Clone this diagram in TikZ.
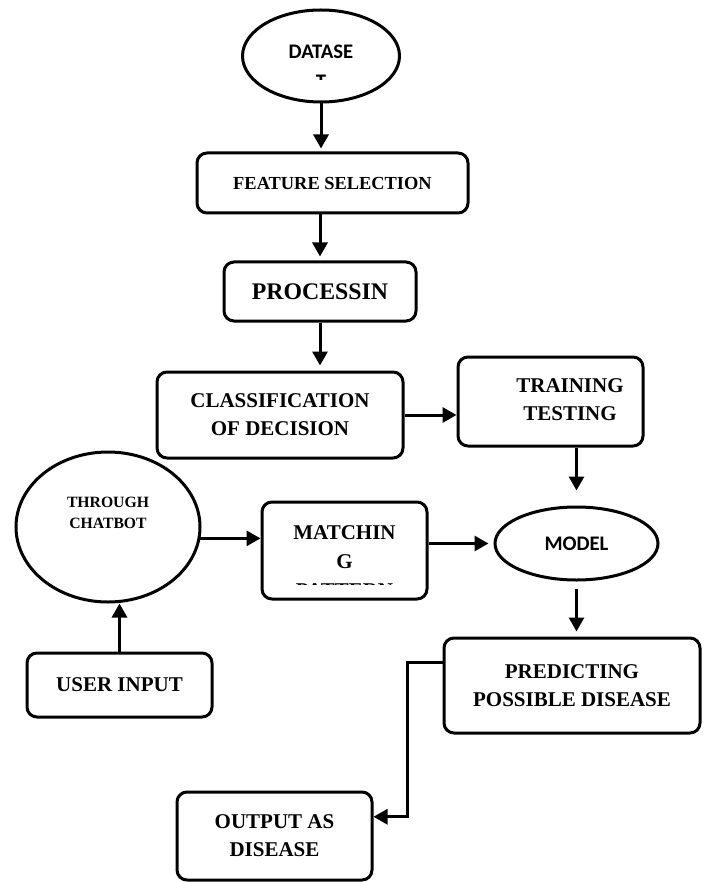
\documentclass[tikz,border=0pt]{standalone}
\usepackage{fontspec}
\setmainfont{Liberation Serif}
\newfontfamily\calibrifont{Carlito}
\usetikzlibrary{arrows.meta, shapes.geometric, calc}

\begin{document}
\begin{tikzpicture}[x=1pt, y=-1pt,
  box/.style={draw, line width=3pt, rounded corners=10pt, inner sep=0pt, align=center, font=\bfseries\fontsize{21}{28}\selectfont},
  oval/.style={draw, ellipse, line width=3pt, inner sep=0pt, align=center},
  txt/.style={inner sep=0pt, align=center, font=\bfseries\fontsize{21}{28}\selectfont},
  arr/.style={line width=3pt, -{Triangle[length=14pt,width=15pt]}}]
\useasboundingbox (0,0) rectangle (719,882);
% dataset
\node[oval, minimum width=157pt, minimum height=92pt] (dataset) at (321,56) {};
\begin{scope}
\clip (243,10) rectangle (400,80);
\node[txt, anchor=north, font=\calibrifont\bfseries\fontsize{20.7}{30}\selectfont] (datasettext) at (321,45) {DATASE\\T};
\end{scope}
% feature selection
\node[box, minimum width=271pt, minimum height=60pt, font=\bfseries\fontsize{18.4}{22}\selectfont] (feature) at (332.5,183) {FEATURE SELECTION};
% processing
\node[box, minimum width=192pt, minimum height=59pt, font=\bfseries\fontsize{23.8}{28}\selectfont] (processin) at (320,291.5) {PROCESSIN};
% classification
\node[box, minimum width=246pt, minimum height=86pt] (classif) at (280,415) {CLASSIFICATION\\OF DECISION};
% training testing
\node[box, minimum width=185pt, minimum height=89pt] (training) at (550.5,401.5) {};
\node[txt] (trainingtext) at (570,400) {TRAINING\\TESTING};
% through chatbot
\node[oval, minimum width=184pt, minimum height=150pt] (chatbot) at (108,527) {};
\node[txt, font=\bfseries\fontsize{15.7}{21}\selectfont] (chatbottext) at (108,512.5) {THROUGH\\CHATBOT};
% matching pattern
\node[box, minimum width=165pt, minimum height=97pt] (matching) at (344.5,550.5) {};
\begin{scope}
\clip (262,502) rectangle (427,584);
\node[txt, anchor=north, font=\bfseries\fontsize{21}{29}\selectfont] (matchingtext) at (344.5,525) {MATCHIN\\G\\PATTERN};
\end{scope}
% model
\node[oval, minimum width=163pt, minimum height=73pt, font=\calibrifont\bfseries\fontsize{20.7}{25}\selectfont] (model) at (576.5,543.5) {MODEL};
% user input
\node[box, minimum width=185pt, minimum height=64pt] (user) at (119.5,685) {USER INPUT};
% predicting
\node[box, minimum width=256pt, minimum height=95pt] (predicting) at (572,685.5) {PREDICTING\\POSSIBLE DISEASE};
% output
\node[box, minimum width=195pt, minimum height=88pt] (output) at (274.5,836) {OUTPUT AS\\DISEASE};
% arrows
\draw[arr, shorten >=3pt] (dataset.south) -- (dataset.south |- feature.north);
\draw[arr, shorten >=4pt] (processin.north |- feature.south) -- (processin.north);
\draw[arr, shorten >=5pt] (processin.south) -- (processin.south |- classif.north);
\draw[arr] (classif.east) -- (classif.east -| training.west);
\draw[arr, shorten >=15pt] (model.north |- training.south) -- (model.north);
\draw[arr] (chatbot.-7) -- (chatbot.-7 -| matching.west);
\draw[arr, shorten >=5pt] (matching.east |- model.west) -- (model.west);
\draw[arr, shorten <=7pt, shorten >=5pt] (model.south) -- (model.south |- predicting.north);
\draw[arr] (user.north) -- (user.north |- chatbot.south);
\draw[arr] (predicting.170) -- ++(-35,0) |- (output.11);
\end{tikzpicture}
\end{document}
